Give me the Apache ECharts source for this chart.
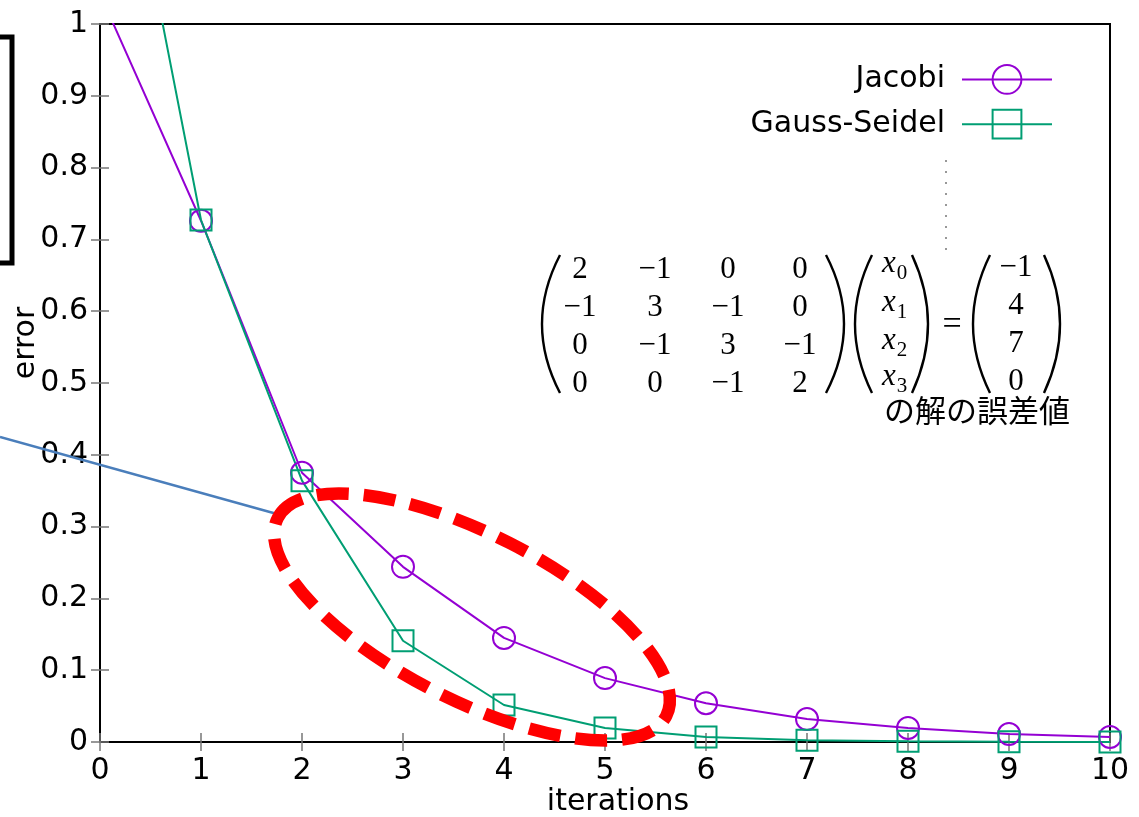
<!DOCTYPE html>
<html>
<head>
<meta charset="utf-8">
<script src="https://cdn.jsdelivr.net/npm/echarts@6/dist/echarts.min.js"></script>
<style>
  html, body { margin: 0; padding: 0; background: #fff; }
  #main { width: 1139px; height: 817px; }
</style>
</head>
<body>
<div id="main"></div>
<script>
// iteration count and error of each method
var iterations = [0, 1, 2, 3, 4, 5, 6, 7, 8, 9, 10];
var jacobi = [1.042, 0.726, 0.375, 0.244, 0.145, 0.089, 0.054, 0.032, 0.0195, 0.011, 0.007];
var gaussSeidel = [1.447, 0.727, 0.364, 0.141, 0.0515, 0.0195, 0.007, 0.0026, 0.001, 0.0003, 0.0001];
var seriesNames = ['Jacobi', 'Gauss-Seidel'];

// matrix equation shown as a note
var matrixRows = [
    ['2', '\u22121', '0', '0'],
    ['\u22121', '3', '\u22121', '0'],
    ['0', '\u22121', '3', '\u22121'],
    ['0', '0', '\u22121', '2']
];
var rhs = ['\u22121', '4', '7', '0'];
var noteText = 'の解の誤差値';

var FONT = '"DejaVu Sans", "Noto Sans CJK JP", sans-serif';
var SERIF = '"Liberation Serif", "DejaVu Serif", serif';
var purple = '#9400d3';
var green = '#009e73';

function pairs(ys) {
    var out = [];
    for (var i = 0; i < iterations.length; i++) out.push([iterations[i], ys[i]]);
    return out;
}

var chart = echarts.init(document.getElementById('main'));

// --- annotation graphics (equation, bracket, callout line, ellipse)
var g = [];
var colX = [580, 655, 728, 800];
var rowY = [270, 308, 346, 384];
var xRowY = [264, 303, 341, 377];
function txt(x, y, s, font, align) {
    g.push({ type: 'text', x: x, y: y, z: 10,
        style: { text: s, font: font, fill: '#000', align: align || 'center', verticalAlign: 'middle' } });
}
// big parenthesis: tip = x of the ends, depth = how far the middle bulges
function paren(tip, depth) {
    g.push({ type: 'bezierCurve', z: 10,
        shape: { x1: tip, y1: 255, cpx1: tip + depth * 2, cpy1: 324, x2: tip, y2: 393 },
        style: { stroke: '#000', lineWidth: 2.4, fill: null } });
}
for (var r = 0; r < matrixRows.length; r++) {
    for (var c = 0; c < 4; c++) txt(colX[c], rowY[r], matrixRows[r][c], '31px ' + SERIF);
    txt(889, xRowY[r], 'x', 'italic 31px ' + SERIF);
    txt(902, xRowY[r] + 9, String(r), '21px ' + SERIF);
    txt(1016, rowY[r] - 2, rhs[r], '31px ' + SERIF);
}
paren(560, -18); paren(826, 18);
paren(872, -17); paren(912, 16);
paren(990, -17); paren(1044, 16);
txt(952, 325, '=', '34px ' + SERIF);
txt(1070, 410, noteText, '31px "Noto Sans CJK JP", sans-serif', 'right');

// bracket at the far left
g.push({ type: 'polyline', shape: { points: [[0, 37], [12, 37], [12, 263], [0, 263]] },
    style: { stroke: '#000', lineWidth: 5, fill: null } });
// blue callout line
g.push({ type: 'line', z: 5, shape: { x1: 0, y1: 437, x2: 277, y2: 514 },
    style: { stroke: '#4a7ebb', lineWidth: 2.5 } });
// dotted leftover line
g.push({ type: 'line', shape: { x1: 946, y1: 160, x2: 946, y2: 256 },
    style: { stroke: '#777', lineWidth: 1.5, lineDash: [2, 9] } });
// red dashed ellipse
g.push({ type: 'ellipse', z: 20, x: 472, y: 617, rotation: -27 * Math.PI / 180,
    shape: { cx: 0, cy: 0, rx: 218, ry: 83 },
    style: { stroke: '#ff0000', fill: null, lineWidth: 12.5, lineDash: [32, 15] } });

var option = {
    backgroundColor: '#fff',
    animation: false,
    textStyle: { fontFamily: FONT },
    grid: { left: 100, right: 29, top: 24, bottom: 75, show: true, outerBoundsMode: 'none',
        borderColor: '#000', borderWidth: 2, backgroundColor: 'transparent' },
    legend: {
        orient: 'vertical', right: 81, top: 59, align: 'right',
        itemWidth: 90, itemHeight: 36, itemGap: 14,
        textStyle: { fontSize: 30, color: '#000', fontFamily: FONT, padding: [0, 12, 0, 0] },
        data: seriesNames
    },
    xAxis: [{
        type: 'value', min: 0, max: 10, interval: 1,
        name: 'iterations', nameLocation: 'middle', nameGap: 45, nameMoveOverlap: false,
        nameTextStyle: { fontSize: 30, color: '#000', padding: [0, 0, 0, 26] },
        axisLine: { onZero: false, lineStyle: { color: '#000', width: 2 } },
        axisTick: { inside: true, length: 9, lineStyle: { color: '#777', width: 1.5 } },
        axisLabel: { fontSize: 30, color: '#000', margin: 14 },
        splitLine: { show: false }
    }, {
        type: 'value', position: 'top', min: 0, max: 10, interval: 1,
        axisLine: { show: false },
        axisTick: { inside: true, length: 9, lineStyle: { color: '#777', width: 1.5 } },
        axisLabel: { show: false }, splitLine: { show: false }
    }],
    yAxis: [{
        type: 'value', min: 0, max: 1, interval: 0.1,
        name: 'error', nameLocation: 'middle', nameGap: 59, nameRotate: 90, nameMoveOverlap: false,
        nameTextStyle: { fontSize: 30, color: '#000', padding: [0, 0, 0, 80] },
        axisLine: { show: true, onZero: false, lineStyle: { color: '#000', width: 2 } },
        axisTick: { show: true, inside: true, length: 9, lineStyle: { color: '#777', width: 1.5 } },
        axisLabel: { fontSize: 30, color: '#000', margin: 12,
            formatter: function (v) { return String(Math.round(v * 10) / 10); } },
        splitLine: { show: false }
    }, {
        type: 'value', position: 'right', min: 0, max: 1, interval: 0.1,
        axisLine: { show: false },
        axisTick: { show: true, inside: true, length: 9, lineStyle: { color: '#777', width: 1.5 } },
        axisLabel: { show: false }, splitLine: { show: false }
    }],
    series: [{
        name: seriesNames[0], type: 'line', data: pairs(jacobi),
        symbol: 'circle', symbolSize: 22, z: 3,
        lineStyle: { color: purple, width: 2 },
        itemStyle: { color: 'rgba(0,0,0,0)', borderColor: purple, borderWidth: 2 }
    }, {
        name: seriesNames[1], type: 'line', data: pairs(gaussSeidel),
        symbol: 'rect', symbolSize: 21, z: 3,
        lineStyle: { color: green, width: 2 },
        itemStyle: { color: 'rgba(0,0,0,0)', borderColor: green, borderWidth: 2 }
    }],
    graphic: g
};

chart.setOption(option);
</script>
</body>
</html>
